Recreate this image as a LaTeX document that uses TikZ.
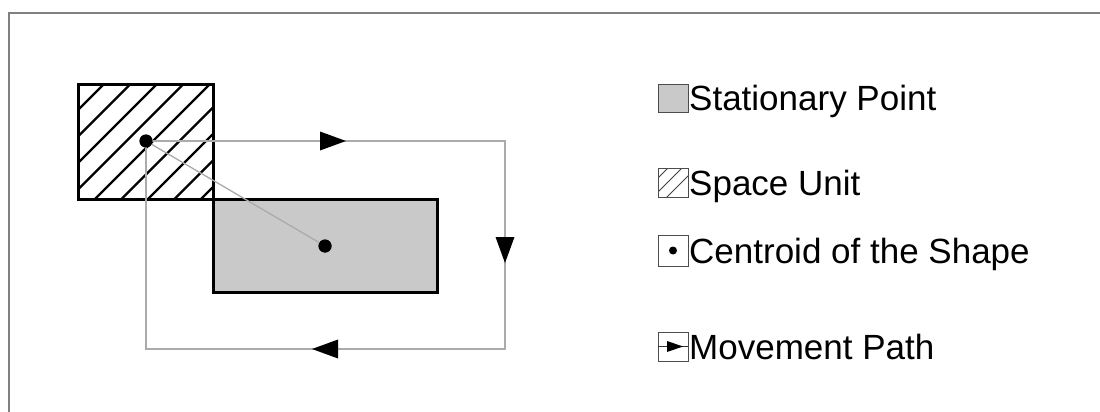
\documentclass[tikz,border=0pt]{standalone}
\usepackage{fontspec}
\setmainfont{Liberation Sans}
\begin{document}
\begin{tikzpicture}[x=1pt,y=-1pt,
  frameline/.style={draw=black!50,line width=2pt},
  shapeline/.style={draw=black,line width=3pt,line join=miter},
  pathline/.style={draw=black!33,line width=1.3pt},
  centroid/.style={circle,fill=black,inner sep=0pt,minimum size=13pt},
  headtip/.style={fill=black},
  keybox/.style={draw=black!70,line width=1pt},
  keytext/.style={anchor=base west,inner sep=0pt,font=\fontsize{35}{42}\selectfont},
  hatchline/.style={draw=black,line width=2.3pt}]
\useasboundingbox (0,0) rectangle (1100,412);
% frame (top and left edges)
\draw[frameline] (8.5,412) -- (8.5,13.5) -- (1100,13.5);

% stationary point (grey rectangle)
\fill[black!21] (213,199) rectangle (437,292);
% space unit (hatched square)
\fill[white] (78,84) rectangle (213,199);
\begin{scope}
  \clip (78,84) rectangle (213,199);
  \foreach \k in {-6,...,6}{
    \draw[hatchline] ({294+26.5*\k-250},250) -- ({294+26.5*\k+50},-50);
  }
\end{scope}
\draw[shapeline] (78,84) rectangle (213,199);
\draw[shapeline] (213,199) rectangle (437,292);

% centroids
\node[centroid] (c1) at (146,141) {};
\node[centroid] (c2) at (325,246) {};
\coordinate (p1) at (505,141);
\coordinate (p2) at (505,349);
\coordinate (p3) at (146,349);

% movement path
\draw[pathline] (c1.center) -- (p1) -- (p2) -- (p3) -- (c1.center);
\draw[pathline] (c1.center) -- (c2.center);
\node[centroid] at (c1) {};
\node[centroid] at (c2) {};

% direction marks
\fill[headtip] (346,141) -- (320,131.5) -- (320,150.5) -- cycle;
\fill[headtip] (505,263) -- (495.5,237) -- (514.5,237) -- cycle;
\fill[headtip] (312,349) -- (338,339.5) -- (338,358.5) -- cycle;

% legend
\fill[black!21] (658,84) rectangle (688,112);
\draw[keybox] (658,84) rectangle (688,112);
\node[keytext] (t1) at (689,110.5) {Stationary Point};

\begin{scope}
  \clip (658,168) rectangle (688,197);
  \foreach \s in {836,850,864}{
    \draw[draw=black!75,line width=1pt] ({\s-200},200) -- ({\s-160},160);
  }
\end{scope}
\draw[keybox] (658,168) rectangle (688,197);
\node[keytext] (t2) at (689,195) {Space Unit};

\draw[keybox] (658,235) rectangle (688,266);
\fill[black] (673,250.5) circle (4pt);
\node[keytext] (t3) at (689,263.5) {Centroid of the Shape};

\draw[keybox] (658,332) rectangle (688,361);
\draw[draw=black!80,line width=1pt] (658,346.5) -- (688,346.5);
\fill[headtip] (683,346.5) -- (667,341) -- (667,352) -- cycle;
\node[keytext] (t4) at (689,359) {Movement Path};
\end{tikzpicture}
\end{document}
